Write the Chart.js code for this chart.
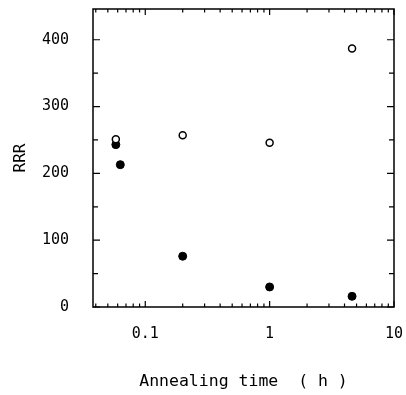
<!DOCTYPE html>
<html>
<head>
  <title>RRR vs annealing time</title>
  <script src="https://cdn.jsdelivr.net/npm/chart.js"></script>
  <style>
    body { margin: 0; background: #fff; }
    #wrap { width: 406px; height: 395px; }
  </style>
</head>
<body>
  <div id="wrap"><canvas id="rrrChart" width="406" height="395"></canvas></div>
  <script>
  // annealing time (h) and residual resistance ratio
  const openTime = [0.058, 0.2, 1.0, 4.6];
  const openRRR = [251, 257, 246, 387];
  const filledTime = [0.058, 0.063, 0.2, 1.0, 4.6];
  const filledRRR = [243, 213, 76, 30, 16];

  const xLabelTicks = [0.1, 1, 10];
  const xMinorTicks = [0.04, 0.05, 0.06, 0.07, 0.08, 0.09,
    0.2, 0.3, 0.4, 0.5, 0.6, 0.7, 0.8, 0.9,
    2, 3, 4, 5, 6, 7, 8, 9];
  const yLabelTicks = [0, 100, 200, 300, 400];
  const yMinorTicks = [50, 150, 250, 350];

  const monoFont = '"DejaVu Sans Mono", "Liberation Mono", monospace';

  // frame plus inward ticks on all four sides
  const frameTicks = {
    id: 'frameTicks',
    afterDatasetsDraw(chart) {
      const { ctx, chartArea: a, scales: { x, y } } = chart;
      ctx.save();
      ctx.strokeStyle = '#000';
      ctx.lineWidth = 1.5;
      ctx.strokeRect(a.left, a.top, a.right - a.left, a.bottom - a.top);
      ctx.lineWidth = 1.2;
      ctx.beginPath();
      const xTick = (v, len) => {
        const px = x.getPixelForValue(v);
        ctx.moveTo(px, a.bottom); ctx.lineTo(px, a.bottom - len);
        ctx.moveTo(px, a.top); ctx.lineTo(px, a.top + len);
      };
      const yTick = (v, len) => {
        const py = y.getPixelForValue(v);
        ctx.moveTo(a.left, py); ctx.lineTo(a.left + len, py);
        ctx.moveTo(a.right, py); ctx.lineTo(a.right - len, py);
      };
      xLabelTicks.forEach(v => xTick(v, 6));
      xMinorTicks.forEach(v => xTick(v, 3.5));
      yLabelTicks.forEach(v => yTick(v, 7));
      yMinorTicks.forEach(v => yTick(v, 5));
      ctx.stroke();
      ctx.restore();
    }
  };

  new Chart(document.getElementById('rrrChart'), {
    type: 'scatter',
    data: {
      datasets: [
        {
          label: 'open',
          data: openTime.map((t, i) => ({ x: t, y: openRRR[i] })),
          pointStyle: 'circle',
          pointRadius: 3.5,
          backgroundColor: '#fff',
          borderColor: '#000',
          borderWidth: 1.5
        },
        {
          label: 'filled',
          data: filledTime.map((t, i) => ({ x: t, y: filledRRR[i] })),
          pointStyle: 'circle',
          pointRadius: 4,
          backgroundColor: '#000',
          borderColor: '#000',
          borderWidth: 1
        }
      ]
    },
    options: {
      responsive: false,
      animation: false,
      layout: { padding: { top: 9, right: 12, left: 0, bottom: 0 } },
      plugins: { legend: { display: false }, tooltip: { enabled: false } },
      scales: {
        x: {
          type: 'logarithmic',
          min: 0.038,
          max: 10,
          afterBuildTicks: s => { s.ticks = xLabelTicks.map(v => ({ value: v })); },
          afterFit: s => { s.height = 88; s.paddingLeft = 0; s.paddingRight = 0; },
          grid: { display: false },
          border: { display: false },
          ticks: {
            color: '#000',
            padding: 10,
            maxRotation: 0,
            autoSkip: false,
            font: { family: monoFont, size: 15 },
            callback: v => String(v)
          },
          title: {
            display: true,
            text: 'Annealing time  ( h )',
            color: '#000',
            font: { family: monoFont, size: 16.5 },
            padding: { top: 0, bottom: 3 }
          }
        },
        y: {
          min: 0,
          max: 446,
          afterBuildTicks: s => { s.ticks = yLabelTicks.map(v => ({ value: v })); },
          afterFit: s => { s.width = 93; s.paddingTop = 0; s.paddingBottom = 0; },
          grid: { display: false },
          border: { display: false },
          ticks: {
            color: '#000',
            padding: 16,
            font: { family: monoFont, size: 15 }
          },
          title: {
            display: true,
            text: 'RRR',
            color: '#000',
            font: { family: monoFont, size: 16 },
            padding: { top: 11, bottom: 0 }
          }
        }
      }
    },
    plugins: [frameTicks]
  });
  </script>
</body>
</html>
